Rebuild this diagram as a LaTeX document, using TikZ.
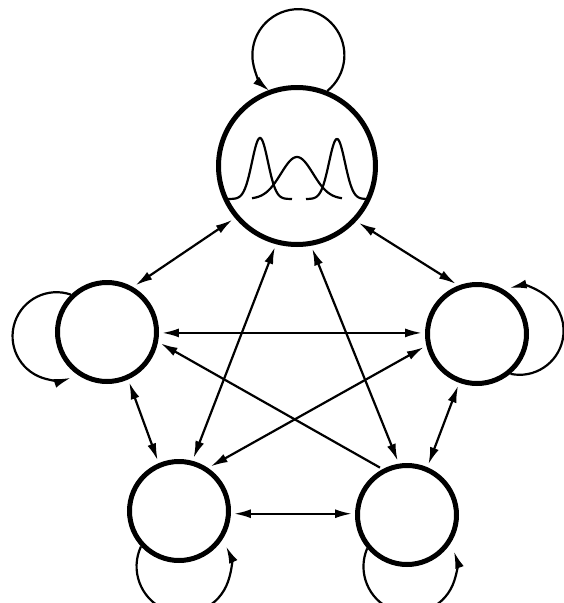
\documentclass[tikz,border=0pt]{standalone}
\usetikzlibrary{arrows.meta}
\begin{document}
\begin{tikzpicture}[x=1pt,y=1pt,
  state/.style={circle, draw, line width=5pt, inner sep=0pt},
  small/.style={state, minimum size=99pt},
  big/.style={state, minimum size=157pt},
  tip/.tip={Latex[length=17pt,width=9pt]},
  edge/.style={line width=2.2pt, tip-tip, shorten >=3pt, shorten <=3pt},
  oneway/.style={line width=2.2pt, -tip, shorten >=3pt, shorten <=3pt},
  selfloop/.style={line width=2.2pt, -tip},
  curve/.style={line width=2.2pt}]
\useasboundingbox (0,0) rectangle (564,-603);
\clip (0,0) rectangle (564,-603);
% states
\node[big] (top) at (297,-166) {};
\node[small] (left) at (107,-332) {};
\node[small] (right) at (477,-334) {};
\node[small] (bl) at (179,-511) {};
\node[small] (br) at (407,-515) {};
% gaussians in top state
\draw[curve] plot[domain=228:292, samples=90] (\x, {-199+61*exp(-((\x-260)/8)^2/2)});
\draw[curve] plot[domain=252:342, samples=90] (\x, {-199+42*exp(-((\x-297)/16)^2/2)});
\draw[curve] plot[domain=306:366, samples=90] (\x, {-199+60*exp(-((\x-337)/8)^2/2)});
% self loops
\draw[selfloop] (top.68) arc[start angle=-51, end angle=231, radius=46];
\draw[selfloop] (left.134) arc[start angle=71, end angle=289, radius=44];
\draw[selfloop] (right.-50) arc[start angle=258, end angle=463, radius=44];
\draw[selfloop] (bl.223) arc[start angle=155, end angle=385, radius=47];
\draw[selfloop] (br.220) arc[start angle=157, end angle=379, radius=46.5];
% transitions
\draw[edge] (top.220) -- (left.60);
\draw[edge] (top.-43) -- (right.111);
\draw[edge] (top.255) -- (bl.75);
\draw[edge] (top.280) -- (br.99);
\draw[edge] (left.-1) -- (right.west |- left.-1);
\draw[oneway] (br.118) -- (left.-11);
\draw[edge] (right.193) -- (bl.56);
\draw[edge] (left.-66) -- (bl.113);
\draw[edge] (right.250) -- (br.67);
\draw[edge] (bl.-3) -- (br.west |- bl.-3);
\end{tikzpicture}
\end{document}
